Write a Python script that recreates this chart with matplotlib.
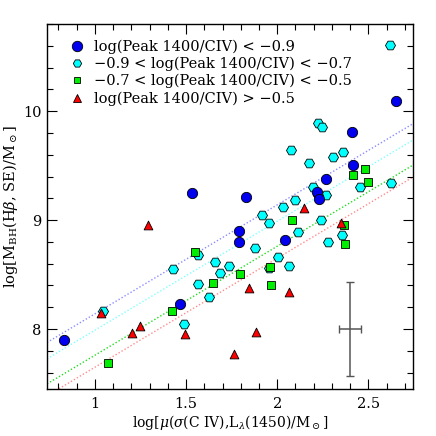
import matplotlib
matplotlib.use("Agg")
import matplotlib.pyplot as plt
from matplotlib.lines import Line2D
from matplotlib.ticker import MultipleLocator
import numpy as np

plt.rcParams['font.family'] = ['DejaVu Serif']
plt.rcParams['mathtext.fontset'] = 'dejavuserif'

# ---- data ----
blue_x = [0.830, 1.465, 1.531, 1.790, 1.790, 1.827, 2.043, 2.217, 2.231, 2.268, 2.414, 2.409, 2.652]
blue_y = [7.899, 8.232, 9.245, 8.899, 8.795, 9.214, 8.817, 9.260, 9.190, 9.373, 9.505, 9.810, 10.094]

cyan_x = [1.042, 1.428, 1.567, 1.567, 1.488, 1.627, 1.657, 1.684, 1.737, 1.880, 1.915, 1.957,
          1.957, 2.006, 2.065, 2.030, 2.098, 2.116, 2.076, 2.176, 2.195, 2.226, 2.244, 2.240,
          2.268, 2.281, 2.305, 2.360, 2.354, 2.454, 2.625, 2.619, 2.226]
cyan_y = [8.165, 8.548, 8.676, 8.410, 8.043, 8.291, 8.615, 8.517, 8.580, 8.743, 9.043, 8.972,
          8.557, 8.663, 8.581, 9.122, 9.188, 8.893, 9.642, 9.526, 9.306, 9.893, 9.856, 9.000,
          9.229, 8.803, 9.581, 9.627, 8.862, 9.307, 9.337, 10.606, 9.229]

green_x = [1.070, 1.421, 1.549, 1.646, 1.796, 1.960, 1.964, 2.083, 2.367, 2.372, 2.414, 2.482, 2.497]
green_y = [7.691, 8.168, 8.709, 8.419, 8.502, 8.566, 8.404, 9.005, 8.954, 8.777, 9.413, 9.465, 9.351]

red_x = [1.031, 1.201, 1.247, 1.293, 1.494, 1.765, 1.845, 1.884, 2.066, 2.149, 2.352]
red_y = [8.144, 7.961, 8.028, 8.954, 7.954, 7.771, 8.376, 7.975, 8.342, 9.113, 8.975]

# unit-slope relations: log M = x + offset
line_offsets = [7.14, 6.99, 6.76, 6.65]
line_colors = ['#8c8cff', '#80ffff', '#22dd22', '#ff8c8c']

# typical error bar
err_x, err_y = [2.40], [8.00]
err_xerr, err_yerr = [0.062], [0.43]

labels = ['log(Peak 1400/CIV) < \u22120.9',
          '\u22120.9 < log(Peak 1400/CIV) < \u22120.7',
          '\u22120.7 < log(Peak 1400/CIV) < \u22120.5',
          'log(Peak 1400/CIV) > \u22120.5']

# ---- figure ----
fig = plt.figure(figsize=(4.36, 4.36), dpi=100)
ax = fig.add_axes([47/436, 1-389/436, 366/436, 365/436])
xlim = (0.737, 2.745)
ylim = (7.45, 10.80)

xx = np.array(xlim)
for off, c in zip(line_offsets, line_colors):
    ax.plot(xx, xx + off, ls=(0, (1, 1.5)), color=c, lw=1.0, zorder=1)

ax.scatter(cyan_x, cyan_y, marker='H', s=52, c='#00ffff', edgecolors='black', linewidths=0.6, zorder=3)
ax.scatter(blue_x, blue_y, marker='o', s=55, c='#0000ee', edgecolors='black', linewidths=0.6, zorder=4)
ax.scatter(green_x, green_y, marker='s', s=28, c='#00ee00', edgecolors='black', linewidths=0.6, zorder=5)
ax.scatter(red_x, red_y, marker='^', s=40, c='#ff0000', edgecolors='black', linewidths=0.6, zorder=6)

ax.errorbar(err_x, err_y, xerr=err_xerr, yerr=err_yerr, fmt='none', ecolor='#555555',
            elinewidth=1.1, capsize=3, capthick=1.0, zorder=2)

ax.set_xlim(*xlim)
ax.set_ylim(*ylim)
ax.xaxis.set_major_locator(MultipleLocator(0.5))
ax.xaxis.set_minor_locator(MultipleLocator(0.1))
ax.yaxis.set_major_locator(MultipleLocator(1))
ax.yaxis.set_minor_locator(MultipleLocator(0.2))
ax.xaxis.set_major_formatter(matplotlib.ticker.FuncFormatter(lambda v, p: f'{v:g}'))
ax.tick_params(which='both', direction='in', top=True, right=True, labelsize=10.5)
ax.tick_params(axis='x', pad=6)
ax.tick_params(axis='y', pad=4)
ax.tick_params(which='major', length=7, width=0.8)
ax.tick_params(which='minor', length=4, width=0.8)
for sp in ax.spines.values():
    sp.set_linewidth(1.0)

ax.set_xlabel(r'log[$\mu$($\sigma$(C IV),L$_\lambda$(1450)/M$_\odot$]', fontsize=10, labelpad=1)
ax.set_ylabel(r'log[M$_{\rm BH}$(H$\beta$, SE)/M$_\odot$]', fontsize=10.5, labelpad=2)

handles = [
    Line2D([], [], ls='none', marker='o', ms=7.5, mfc='#0000ee', mec='black', mew=0.6),
    Line2D([], [], ls='none', marker='H', ms=6, mfc='#00ffff', mec='black', mew=0.6),
    Line2D([], [], ls='none', marker='s', ms=4.5, mfc='#00ee00', mec='black', mew=0.6),
    Line2D([], [], ls='none', marker='^', ms=6, mfc='#ff0000', mec='black', mew=0.6),
]
ax.legend(handles, labels, loc='upper left', bbox_to_anchor=(0.03, 0.99), frameon=False,
          fontsize=10.5, handlelength=1.0, handletextpad=0.7, labelspacing=0.2, borderpad=0.3)

fig.savefig('out.png', dpi=100)
